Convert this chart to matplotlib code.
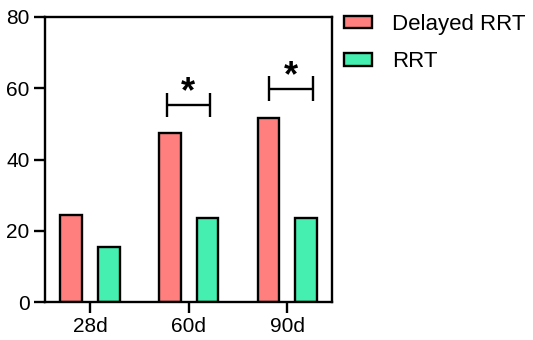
import matplotlib
matplotlib.use("Agg")
import matplotlib.pyplot as plt
import numpy as np

plt.rcParams['font.family'] = ['Liberation Sans', 'DejaVu Sans']

categories = ["28d", "60d", "90d"]
delayed_rrt = [24.4, 47.4, 51.6]
rrt = [15.5, 23.6, 23.6]
series_names = ["Delayed RRT", "RRT"]
yticks = [0, 20, 40, 60, 80]

# significance brackets: (category index, left offset, right offset, y level, label)
sig_cats = [1, 2]
sig_left = [-0.22, -0.185]
sig_right = [0.215, 0.256]
sig_y = [55.3, 59.9]
sig_star_x = [-0.01, 0.035]
sig_label = ["*", "*"]

red = "#FF7F7F"
green = "#44EFAF"

W, H = 533, 340
fig = plt.figure(figsize=(W / 100, H / 100), dpi=100)
ax = fig.add_axes([45 / W, (H - 302) / H, 287 / W, 285 / H])

x = np.arange(len(categories))
bw = 0.22
off = 0.19
lw = 1.7
ax.bar(x - off, delayed_rrt, bw, color=red, edgecolor="black", linewidth=lw, label=series_names[0])
ax.bar(x + off, rrt, bw, color=green, edgecolor="black", linewidth=lw, label=series_names[1])

ax.set_xlim(-0.456, 2.453)
ax.set_ylim(0, 80)
ax.set_xticks(x)
ax.set_xticklabels(categories)
ax.set_yticks(yticks)
ax.tick_params(axis='both', labelsize=15, width=lw, length=8, direction='out', pad=3)
for s in ax.spines.values():
    s.set_linewidth(lw)

cap = 3.5
for ci, l, r, y, sx, lab in zip(sig_cats, sig_left, sig_right, sig_y, sig_star_x, sig_label):
    ax.plot([ci + l, ci + r], [y, y], color="black", lw=lw, solid_capstyle='butt')
    ax.plot([ci + l, ci + l], [y - cap, y + cap], color="black", lw=lw, solid_capstyle='butt')
    ax.plot([ci + r, ci + r], [y - cap, y + cap], color="black", lw=lw, solid_capstyle='butt')
    ax.text(ci + sx, y + 0.8, lab, ha='center', va='baseline', fontsize=26, fontweight='bold')

leg = fig.legend(loc='upper left', bbox_to_anchor=(344 / W, 1 - 14 / H), frameon=False,
                 fontsize=16, handlelength=1.26, handleheight=0.5, handletextpad=0.9,
                 labelspacing=0.73, borderpad=0, borderaxespad=0)
for p in leg.get_patches():
    p.set_linewidth(lw)

fig.savefig("out.png", dpi=100)
